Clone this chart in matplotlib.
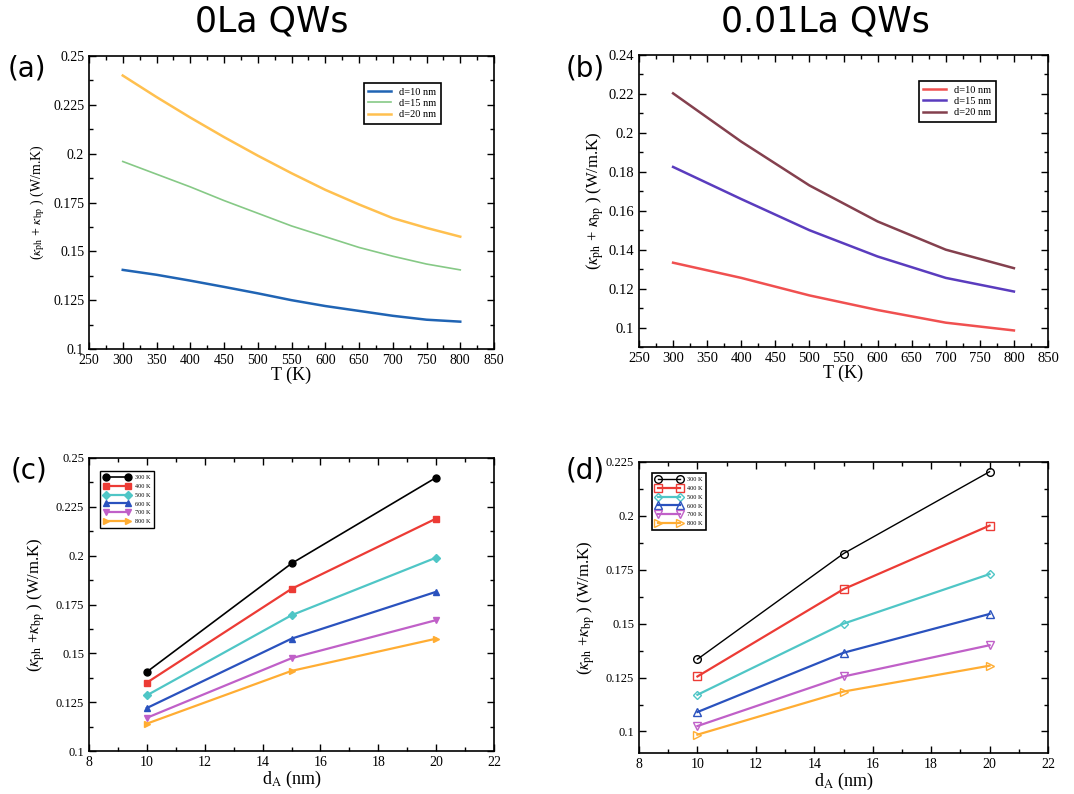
import matplotlib
matplotlib.use('Agg')
import matplotlib.pyplot as plt
from matplotlib.ticker import MultipleLocator

plt.rcParams['font.family'] = 'Liberation Serif'
plt.rcParams['mathtext.fontset'] = 'stix'

# temperature sweep (panels a, b)
T_a = [300, 350, 400, 450, 500, 550, 600, 650, 700, 750, 800]
k0_d10 = [0.1405, 0.138, 0.135, 0.1318, 0.1285, 0.125, 0.122, 0.1195, 0.117, 0.115, 0.114]
k0_d15 = [0.196, 0.1895, 0.183, 0.176, 0.1695, 0.163, 0.1575, 0.152, 0.1475, 0.1435, 0.1405]
k0_d20 = [0.240, 0.229, 0.2185, 0.2085, 0.199, 0.190, 0.1815, 0.174, 0.167, 0.162, 0.1575]

T_b = [300, 400, 500, 600, 700, 800]
k1_d10 = [0.1333, 0.1255, 0.1165, 0.109, 0.1025, 0.0985]
k1_d15 = [0.1825, 0.166, 0.150, 0.1365, 0.1255, 0.1185]
k1_d20 = [0.2203, 0.1955, 0.173, 0.1545, 0.140, 0.1305]

# thickness sweep (panels c, d)
d_A = [10, 15, 20]
temps = ['300 K', '400 K', '500 K', '600 K', '700 K', '800 K']
k0_vs_d = [
    [0.1405, 0.196, 0.240],
    [0.135, 0.183, 0.219],
    [0.1285, 0.1695, 0.199],
    [0.122, 0.1575, 0.1815],
    [0.117, 0.1475, 0.167],
    [0.114, 0.141, 0.1575],
]
k1_vs_d = [
    [0.1335, 0.1825, 0.2205],
    [0.1255, 0.166, 0.1955],
    [0.117, 0.150, 0.173],
    [0.109, 0.1365, 0.1545],
    [0.1025, 0.1255, 0.140],
    [0.0985, 0.1185, 0.1305],
]

colors_T = ['black', '#ec3b35', '#4fc6c6', '#2a52be', '#c060c8', '#ffad33']
markers = ['o', 's', 'D', '^', 'v', '>']
msizes = [5, 5, 4, 5, 5, 5]

W, H = 1074, 794
fig = plt.figure(figsize=(W / 100, H / 100), dpi=100)


def px_axes(x0, y0, x1, y1):
    return fig.add_axes([x0 / W, 1 - y1 / H, (x1 - x0) / W, (y1 - y0) / H])


def style(ax, size):
    ax.tick_params(which='both', direction='in', top=True, right=True, labelsize=size)
    ax.tick_params(which='major', length=5, width=1)
    ax.tick_params(which='minor', length=3, width=1)
    for s in ax.spines.values():
        s.set_linewidth(1.2)


ylab = r'($\kappa_{\mathrm{ph}}$ + $\kappa_{\mathrm{bp}}$ ) (W/m.K)'
ylab2 = r'($\kappa_{\mathrm{ph}}$ +$\kappa_{\mathrm{bp}}$ ) (W/m.K)'
xlab_d = r'd$_{\mathrm{A}}$ (nm)'

# (a)
ax = px_axes(89, 56, 494, 349)
ax.plot(T_a, k0_d10, color='#2064b4', lw=1.8, label='d=10 nm')
ax.plot(T_a, k0_d15, color='#86c986', lw=1.2, label='d=15 nm')
ax.plot(T_a, k0_d20, color='#ffc04f', lw=1.8, label='d=20 nm')
ax.set_xlim(250, 850)
ax.set_ylim(0.1, 0.25)
ax.xaxis.set_major_locator(MultipleLocator(50))
ax.xaxis.set_minor_locator(MultipleLocator(25))
ax.set_yticks([0.1, 0.125, 0.15, 0.175, 0.2, 0.225, 0.25])
ax.set_yticklabels(['0.1', '0.125', '0.15', '0.175', '0.2', '0.225', '0.25'])
ax.yaxis.set_minor_locator(MultipleLocator(0.0125))
style(ax, 10)
ax.set_xlabel('T (K)', fontsize=13, labelpad=0)
ax.set_ylabel(ylab, fontsize=10, labelpad=4)
leg = ax.legend(loc='upper right', bbox_to_anchor=(0.881, 0.925), fontsize=7.5,
                fancybox=False, edgecolor='black', framealpha=1, handlelength=2.2,
                borderpad=0.4, labelspacing=0.2)
leg.get_frame().set_linewidth(1.2)

# (b)
ax = px_axes(639, 55, 1048, 347)
ax.plot(T_b, k1_d10, color='#f05050', lw=1.8, label='d=10 nm')
ax.plot(T_b, k1_d15, color='#5a3cbe', lw=1.8, label='d=15 nm')
ax.plot(T_b, k1_d20, color='#84404e', lw=1.8, label='d=20 nm')
ax.set_xlim(250, 850)
ax.set_ylim(0.09, 0.24)
ax.xaxis.set_major_locator(MultipleLocator(50))
ax.xaxis.set_minor_locator(MultipleLocator(25))
ax.set_yticks([0.1, 0.12, 0.14, 0.16, 0.18, 0.2, 0.22, 0.24])
ax.set_yticklabels(['0.1', '0.12', '0.14', '0.16', '0.18', '0.2', '0.22', '0.24'])
ax.yaxis.set_minor_locator(MultipleLocator(0.01))
style(ax, 10.5)
ax.set_xlabel('T (K)', fontsize=13, labelpad=0)
ax.set_ylabel(ylab, fontsize=12, labelpad=2)
leg = ax.legend(loc='upper right', bbox_to_anchor=(0.885, 0.928), fontsize=7.5,
                fancybox=False, edgecolor='black', framealpha=1, handlelength=2.2,
                borderpad=0.4, labelspacing=0.2)
leg.get_frame().set_linewidth(1.2)

# (c)
ax = px_axes(89, 458, 494, 751)
for vals, c, m, s, lab in zip(k0_vs_d, colors_T, markers, msizes, temps):
    ax.plot(d_A, vals, color=c, marker=m, ms=s, lw=1.2 if c == 'black' else 1.6, label=lab)
ax.set_xlim(8, 22)
ax.set_ylim(0.1, 0.25)
ax.xaxis.set_major_locator(MultipleLocator(2))
ax.xaxis.set_minor_locator(MultipleLocator(1))
ax.set_yticks([0.1, 0.125, 0.15, 0.175, 0.2, 0.225, 0.25])
ax.set_yticklabels(['0.1', '0.125', '0.15', '0.175', '0.2', '0.225', '0.25'])
ax.yaxis.set_minor_locator(MultipleLocator(0.0125))
style(ax, 9)
ax.tick_params(axis='x', labelsize=10)
ax.set_xlabel(xlab_d, fontsize=13, labelpad=0)
ax.set_ylabel(ylab2, fontsize=12, labelpad=6)
leg = ax.legend(loc='upper left', bbox_to_anchor=(0.02, 0.966), fontsize=4.5,
                fancybox=False, edgecolor='black', framealpha=1, numpoints=2,
                handlelength=4.2, markerscale=1.0, borderpad=0.6, labelspacing=0.55,
                handletextpad=0.8)
leg.get_frame().set_linewidth(1.0)

# (d)
ax = px_axes(639, 462, 1048, 753)
for vals, c, m, s, lab in zip(k1_vs_d, colors_T, markers, msizes, temps):
    ax.plot(d_A, vals, color=c, marker=m, ms=s + 0.5, mfc='none', mew=1.0,
            lw=1.0 if c == 'black' else 1.6, label=lab)
ax.set_xlim(8, 22)
ax.set_ylim(0.09, 0.225)
ax.xaxis.set_major_locator(MultipleLocator(2))
ax.xaxis.set_minor_locator(MultipleLocator(1))
ax.set_yticks([0.1, 0.125, 0.15, 0.175, 0.2, 0.225])
ax.set_yticklabels(['0.1', '0.125', '0.15', '0.175', '0.2', '0.225'])
ax.yaxis.set_minor_locator(MultipleLocator(0.0125))
style(ax, 9)
ax.tick_params(axis='x', labelsize=10)
ax.set_xlabel(xlab_d, fontsize=13, labelpad=0)
ax.set_ylabel(ylab2, fontsize=12, labelpad=6)
leg = ax.legend(loc='upper left', bbox_to_anchor=(0.024, 0.973), fontsize=4.5,
                fancybox=False, edgecolor='black', framealpha=1, numpoints=2,
                handlelength=4.2, markerscale=1.0, borderpad=0.6, labelspacing=0.55,
                handletextpad=0.8)
leg.get_frame().set_linewidth(1.2)

# titles and panel tags
fig.text(272 / W, 1 - 22 / H, '0La QWs', fontsize=25, family='DejaVu Sans',
         ha='center', va='center')
fig.text(825 / W, 1 - 22 / H, '0.01La QWs', fontsize=25, family='DejaVu Sans',
         ha='center', va='center')
for lab, x, y in [('(a)', 27, 68), ('(b)', 585, 68), ('(c)', 29, 470), ('(d)', 585, 470)]:
    fig.text(x / W, 1 - y / H, lab, fontsize=20, family='DejaVu Sans',
             ha='center', va='center')

fig.savefig('out.png', dpi=100)
